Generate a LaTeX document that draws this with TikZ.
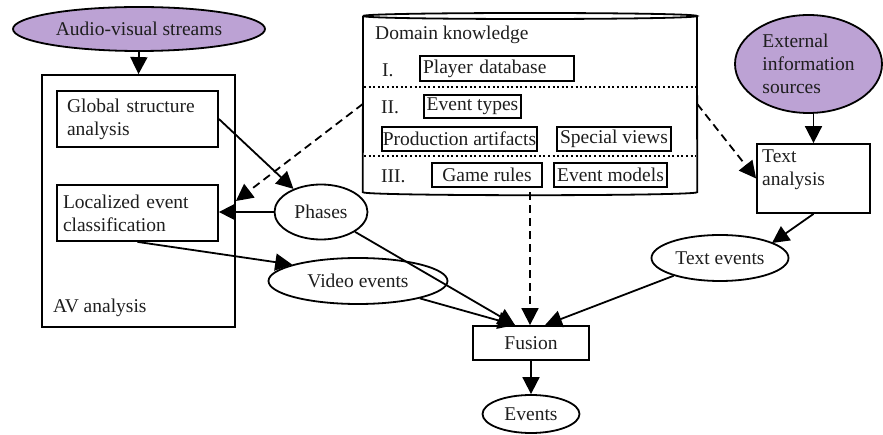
\documentclass[tikz,border=0pt]{standalone}
\usepackage{fontspec}
\setmainfont{Liberation Serif}
\usetikzlibrary{shapes.geometric,arrows.meta}
\definecolor{lavender}{RGB}{188,162,212}
\definecolor{txt}{RGB}{30,30,30}
\begin{document}
\begin{tikzpicture}[x=1pt,y=-1pt, font=\fontsize{19.5}{23}\selectfont, text=txt,
 lw/.style={line width=1.8pt},
 arr/.style={lw, -{Triangle[length=17pt,width=17pt]}},
 darr/.style={arr, dash pattern=on 8pt off 5pt},
 box/.style={draw, lw, rectangle, inner sep=0pt},
 ell/.style={draw, lw, ellipse, inner sep=0pt},
 src/.style={ell, fill=lavender},
 kbox/.style={draw, lw, rectangle, inner xsep=3pt, inner ysep=0pt, align=left},
 lbl/.style={inner sep=0pt, anchor=west},
 sep/.style={line width=2.6pt, dash pattern=on 2pt off 2.6pt}]
\useasboundingbox (0,0) rectangle (883,435);

% left side
\node[src, minimum width=252pt, minimum height=44pt] (avs) at (139,29) {Audio-visual streams};
\node[box, minimum width=193pt, minimum height=252pt] (av) at (138.5,201) {};
\node[box, minimum width=161pt, minimum height=56pt, text width=141pt, align=left] (gsa) at (137.5,119) {Global structure\\analysis};
\node[box, minimum width=161pt, minimum height=56pt, text width=149pt, align=left] (lec) at (137.5,213) {Localized event\\classification};
\node[lbl] (avl) at (53,308) {AV analysis};
\node[ell, minimum width=93pt, minimum height=55pt] (phases) at (321,212) {Phases};
\node[ell, minimum width=179pt, minimum height=46pt] (ve) at (358,281) {Video events};

% domain knowledge cylinder
\node[minimum width=334pt, minimum height=176pt, inner sep=0pt] (dk) at (530,104) {};
\draw[lw] (363,16) .. controls (363,12) and (697,12) .. (697,16)
              .. controls (697,20) and (363,20) .. (363,16);
\draw[lw] (363,16) -- (dk.south west) .. controls +(0,4) and +(0,4) .. (dk.south east) -- (697,16);
\node[lbl] (dkl) at (375,35) {Domain knowledge};
\node[lbl] (l1) at (382,70) {I.};
\node[kbox, minimum height=25pt, text width=148pt] (pdb) at (497,68.5) {Player database};
\draw[sep] (364,87) -- (696,87);
\node[lbl] (l2) at (381,107) {II.};
\node[kbox, minimum height=23pt] (et) at (472.5,106.5) {Event types};
\node[kbox, minimum height=24pt, inner xsep=1pt] (pa) at (459.5,139) {Production artifacts};
\node[kbox, minimum height=24pt] (sv) at (614,139) {Special views};
\draw[sep] (364,156) -- (696,156);
\node[lbl] (l3) at (381,176) {III.};
\node[kbox, minimum height=24pt, minimum width=110pt] (gr) at (487,175) {Game rules};
\node[kbox, minimum height=24pt] (em) at (610.5,175) {Event models};

% right side
\node[src, minimum width=147pt, minimum height=98pt, align=left] (ext) at (808.5,64) {External\\information\\sources};
\node[box, minimum width=113pt, minimum height=69pt] (ta) at (813.5,178.5) {};
\node[anchor=north west, align=left, inner sep=0pt] (tal) at (762,150) {Text\\analysis};
\node[ell, minimum width=137pt, minimum height=46pt] (te) at (720,258) {Text events};

% bottom
\node[box, minimum width=116pt, minimum height=34pt] (fusion) at (531,343) {Fusion};
\node[ell, minimum width=97pt, minimum height=38pt] (ev) at (531,414) {Events};

% connectors
\draw[arr] (avs.south) -- (av.north);
\draw[arr] (gsa.east) -- (phases.140);
\draw[darr] (dk.west) -- (av.east);
\draw[arr] (phases.west) -- (phases.west -| lec.east);
\draw[arr] (lec.south) -- (ve.166);
\draw[arr] (phases) -- ([xshift=-16pt]fusion.north);
\draw[arr] (ve) -- ([xshift=-16pt]fusion.north);
\draw[darr] (dk.south) -- (dk.south |- fusion.north);
\draw[arr] (te) -- ([xshift=14pt]fusion.north);
\draw[arr] (fusion.south) -- (ev.north);
\draw[arr] (ta.north |- ext.south) -- (ta.north);
\draw[darr] (dk.east) -- (ta.west);
\draw[arr] (ta.south) -- ([xshift=52pt,yshift=15pt]te.center);
\end{tikzpicture}
\end{document}
